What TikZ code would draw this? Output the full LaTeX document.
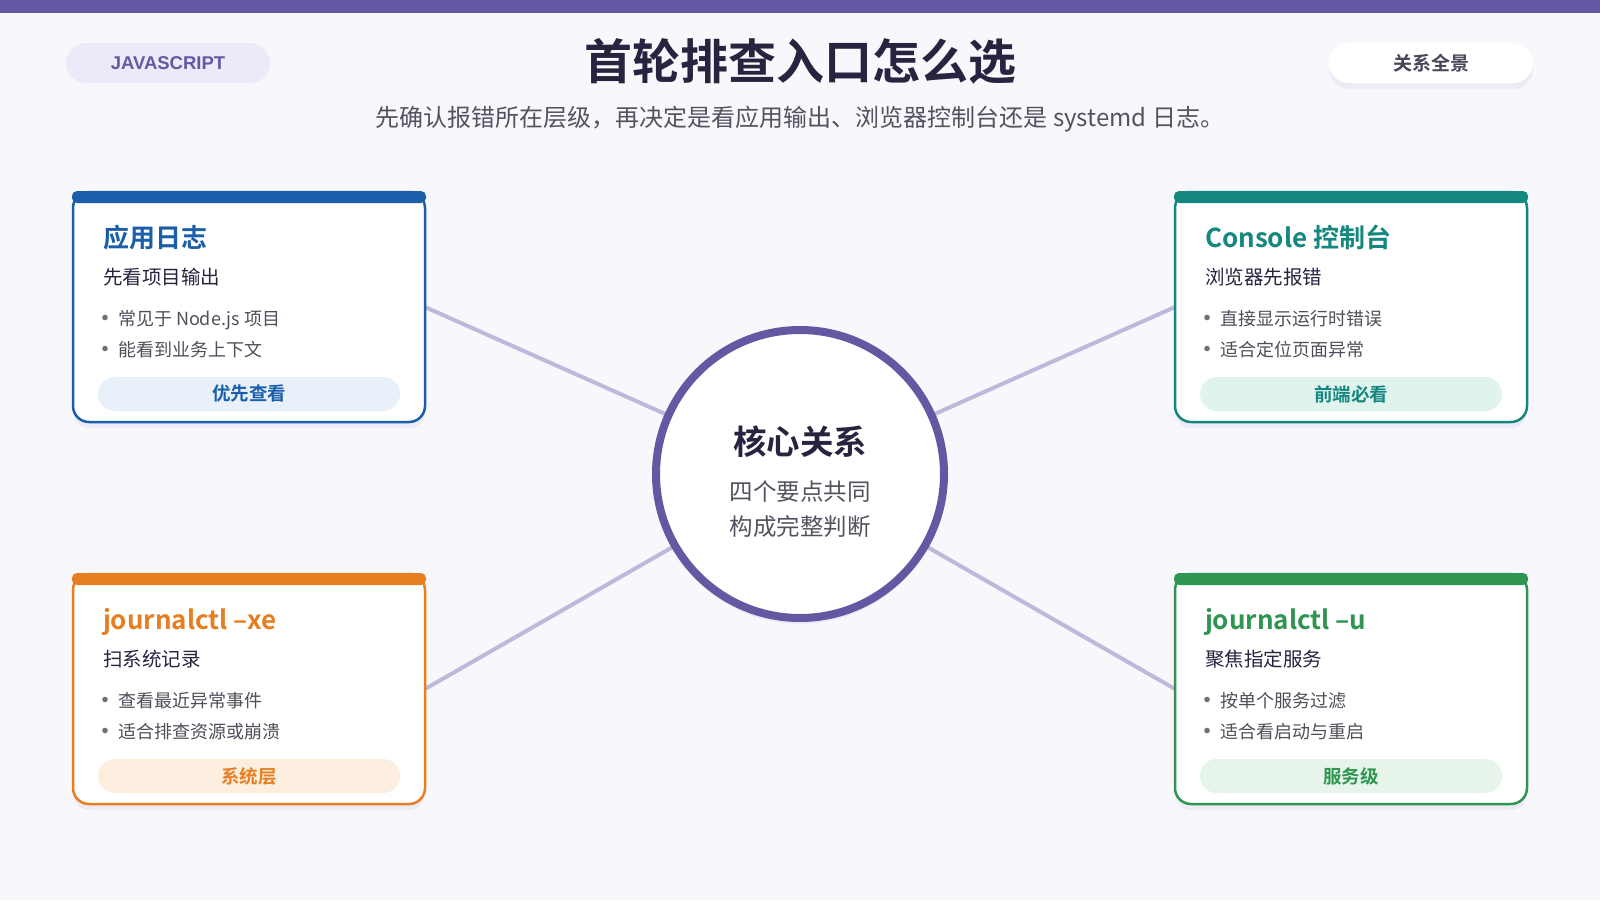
\documentclass[tikz,border=0pt]{standalone}
\usepackage{fontspec}
\setmainfont{Noto Sans CJK SC}[BoldFont={Noto Sans CJK SC Bold}]
\newfontfamily\latinsans{Liberation Sans}
\usetikzlibrary{shadows,backgrounds}
\definecolor{bgc}{HTML}{F8F7FC}
\definecolor{purp}{HTML}{6558A3}
\definecolor{pillfill}{HTML}{ECE9F8}
\definecolor{darktxt}{HTML}{29233F}
\definecolor{graytxt}{HTML}{55525F}
\definecolor{bultxt}{HTML}{4F4E5A}
\definecolor{pilltxt}{HTML}{4A4458}
\definecolor{conn}{HTML}{BEB9DA}
\definecolor{cblue}{HTML}{1B5FAA}
\definecolor{fblue}{HTML}{E8F0FA}
\definecolor{cteal}{HTML}{14877F}
\definecolor{fteal}{HTML}{E0F3EF}
\definecolor{corange}{HTML}{E67E22}
\definecolor{forange}{HTML}{FDEFE0}
\definecolor{cgreen}{HTML}{2E9650}
\definecolor{fgreen}{HTML}{E6F4EA}
\tikzset{
  softshadow/.style={drop shadow={shadow xshift=0pt, shadow yshift=-6pt, opacity=0.07, fill=purp}},
  cardbox/.style={rectangle, rounded corners=16pt, line width=2.5pt, fill=white,
    minimum width=352pt, minimum height=230pt, anchor=north west, inner sep=0pt, outer sep=0pt, softshadow},
  txt/.style={inner sep=0pt, outer sep=0pt},
  cttl/.style={txt, anchor=base west, font=\fontsize{26}{30}\selectfont\bfseries},
  csub/.style={txt, anchor=base west, text=darktxt, font=\fontsize{19.5}{23}\selectfont},
  cbul/.style={txt, anchor=base west, text=bultxt, font=\fontsize{18}{21}\selectfont},
  badge/.style={rectangle, rounded corners=17pt, minimum width=302pt, minimum height=34pt, inner sep=0pt,
    font=\fontsize{18.5}{22}\selectfont\bfseries},
  pill/.style={rectangle, rounded corners=20pt, minimum width=204pt, minimum height=40pt, inner sep=0pt},
  connector/.style={draw=conn, line width=4pt},
}
\newcommand{\mkcard}[9]{%
  \node[cardbox, draw=#3] (#1) at #2 {};
  \fill[#3, rounded corners=5pt] ([shift={(-1,-1)}]#1.north west) rectangle ([shift={(1,11)}]#1.north east);
  \node[cttl, text=#3] (#1t) at ([shift={(30,55.5)}]#1.north west) {#5};
  \node[csub] (#1s) at ([shift={(30,92)}]#1.north west) {#6};
  \fill[bultxt!80] ([shift={(32,125.5)}]#1.north west) circle (2.8pt);
  \node[cbul] (#1a) at ([shift={(45,133)}]#1.north west) {#7};
  \fill[bultxt!80] ([shift={(32,156.5)}]#1.north west) circle (2.8pt);
  \node[cbul] (#1b) at ([shift={(45,164)}]#1.north west) {#8};
  \node[badge, fill=#4, text=#3] (#1d) at ([shift={(176,202)}]#1.north west) {#9};
}
\begin{document}
\begin{tikzpicture}[x=1pt,y=-1pt]
\begin{pgfonlayer}{background}
\fill[bgc] (0,0) rectangle (1600,900);
\end{pgfonlayer}
\useasboundingbox (0,0) rectangle (1600,900);
\fill[purp] (0,0) rectangle (1600,13);
% header
\node[pill, fill=pillfill, text=purp, font=\latinsans\bfseries\fontsize{18.5}{22}\selectfont] (js) at (168,63) {JAVASCRIPT};
\node[pill, fill=white, text=pilltxt, font=\fontsize{19}{22}\selectfont\bfseries, softshadow] (overview) at (1431,63) {关系全景};
\node[text=darktxt, font=\fontsize{48}{52}\selectfont\bfseries, inner sep=0pt] (title) at (800,61) {首轮排查入口怎么选};
\node[text=graytxt, font=\fontsize{24}{28}\selectfont, inner sep=0pt] (subtitle) at (800,119) {先确认报错所在层级，再决定是看应用输出、浏览器控制台还是 systemd 日志。};
% hub
\node[circle, draw=purp, line width=8pt, fill=white, minimum size=288pt, inner sep=0pt, softshadow] (hub) at (800,474) {};
\node[txt, anchor=base, text=darktxt, font=\fontsize{33.5}{38}\selectfont\bfseries] (hubt) at (800,454) {核心关系};
\node[txt, anchor=base, text=graytxt, font=\fontsize{23.5}{27}\selectfont] (hubl1) at (800,500.5) {四个要点共同};
\node[txt, anchor=base, text=graytxt, font=\fontsize{23.5}{27}\selectfont] (hubl2) at (800,535.5) {构成完整判断};
% cards
\mkcard{c1}{(73,192)}{cblue}{fblue}{应用日志}{先看项目输出}{常见于 Node.js 项目}{能看到业务上下文}{优先查看}
\mkcard{c2}{(1175,192)}{cteal}{fteal}{Console 控制台}{浏览器先报错}{直接显示运行时错误}{适合定位页面异常}{前端必看}
\mkcard{c3}{(73,574)}{corange}{forange}{journalctl –xe}{扫系统记录}{查看最近异常事件}{适合排查资源或崩溃}{系统层}
\mkcard{c4}{(1175,574)}{cgreen}{fgreen}{journalctl –u}{聚焦指定服务}{按单个服务过滤}{适合看启动与重启}{服务级}
% connectors
\begin{pgfonlayer}{background}
\draw[connector] (c1.east) -- (hub.center);
\draw[connector] (c2.west) -- (hub.center);
\draw[connector] (c3.east) -- (hub.center);
\draw[connector] (c4.west) -- (hub.center);
\end{pgfonlayer}
\end{tikzpicture}
\end{document}
